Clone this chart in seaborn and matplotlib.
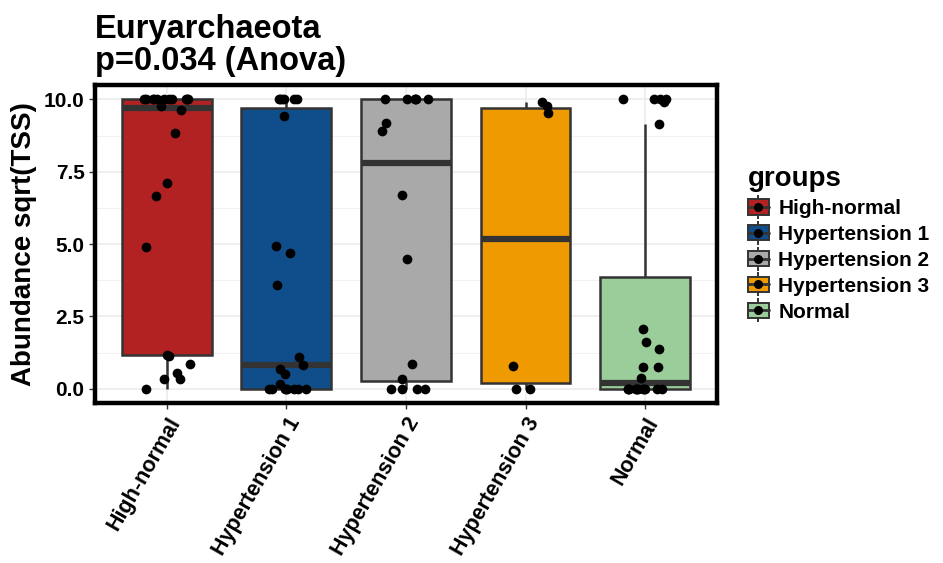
import numpy as np
import pandas as pd
import seaborn as sns
import matplotlib.pyplot as plt
from matplotlib.patches import Patch
from matplotlib.lines import Line2D
from matplotlib.legend_handler import HandlerTuple
from matplotlib.ticker import FormatStrFormatter, MultipleLocator

groups = ['High-normal', 'Hypertension 1', 'Hypertension 2', 'Hypertension 3', 'Normal']
colors = ['#B22222', '#104E8B', '#A9A9A9', '#EE9A00', '#9BCD9B']

# sqrt(TSS) abundance per sample
high_normal = [0.0, 0.33, 0.33, 0.54, 0.85, 1.13, 1.16, 4.91, 6.67, 7.12, 8.85, 9.65, 9.78] + [10.0] * 11
hyper_1 = [0.0] * 8 + [0.17, 0.50, 0.67, 0.82, 1.11, 3.60, 4.70, 4.95, 9.44] + [10.0] * 6
hyper_2 = [0.0] * 4 + [0.33, 0.85, 4.50, 6.68, 8.90, 9.19] + [10.0] * 6
hyper_3 = [0.0, 0.0, 0.80, 9.53, 9.78, 9.90]
normal = [0.0] * 12 + [0.37, 0.74, 0.74, 1.36, 1.62, 2.08, 9.15, 9.92] + [10.0] * 4

values = [high_normal, hyper_1, hyper_2, hyper_3, normal]
df = pd.DataFrame({'groups': [g for g, v in zip(groups, values) for _ in v],
                   'value': [x for v in values for x in v]})

sns.set_theme(style='white')
plt.rcParams['font.family'] = ['Liberation Sans', 'DejaVu Sans']
plt.rcParams['font.weight'] = 'bold'
plt.rcParams['axes.labelweight'] = 'bold'
plt.rcParams['axes.titleweight'] = 'bold'
plt.rcParams['text.color'] = 'black'
plt.rcParams['axes.labelcolor'] = 'black'

fig = plt.figure(figsize=(9.43, 5.63), dpi=100)
ax = fig.add_axes([0.1007, 0.284, 0.6596, 0.565])

sns.boxplot(data=df, x='groups', y='value', hue='groups', order=groups,
            hue_order=groups, palette=colors, saturation=1, width=0.75,
            linewidth=1.8, linecolor='#333333', showfliers=False, showcaps=False,
            medianprops={'linewidth': 4.5, 'color': '#333333'},
            legend=False, ax=ax, zorder=2)
np.random.seed(7)
sns.stripplot(data=df, x='groups', y='value', order=groups, color='black',
              size=7, jitter=0.2, ax=ax, zorder=3)

ax.set_xlim(-0.6, 4.6)
ax.set_ylim(-0.5, 10.5)
ax.yaxis.set_major_locator(MultipleLocator(2.5))
ax.yaxis.set_minor_locator(MultipleLocator(1.25))
ax.yaxis.set_major_formatter(FormatStrFormatter('%.1f'))
ax.grid(which='major', color='#EBEBEB', linewidth=1.1)
ax.grid(which='minor', axis='y', color='#F2F2F2', linewidth=0.7)
ax.set_axisbelow(True)
for s in ax.spines.values():
    s.set_linewidth(3.2)
    s.set_color('black')

ax.tick_params(axis='both', which='major', length=4, width=1, color='#333333',
               labelsize=15, labelcolor='black', left=True, bottom=True)
ax.tick_params(axis='x', labelsize=15.5)
ax.tick_params(axis='y', which='minor', length=0)
plt.setp(ax.get_xticklabels(), rotation=60, ha='right', va='top',
         rotation_mode='anchor')

ax.set_xlabel('')
ax.set_ylabel('Abundance sqrt(TSS)', fontsize=20, labelpad=5, color='black')
ax.set_title('Euryarchaeota\np=0.034 (Anova)', loc='left', fontsize=23.5,
             pad=11, linespacing=1.05, color='black')

handles = []
for c in colors:
    whisk = Line2D([], [], color='#333333', marker='|', markersize=17,
                   markeredgewidth=1.4, linestyle='none')
    box = Patch(facecolor=c, edgecolor='#333333', linewidth=1.4)
    med = Line2D([], [], color='#333333', linewidth=2)
    dot = Line2D([], [], color='black', marker='o', markersize=5.5, linestyle='none')
    handles.append((whisk, box, med, dot))
leg = ax.legend(handles, groups, title='groups',
                handler_map={tuple: HandlerTuple(ndivide=1)},
                loc='center left', bbox_to_anchor=(1.05, 0.5), frameon=False,
                prop={'weight': 'bold', 'size': 15},
                title_fontproperties={'weight': 'bold', 'size': 20},
                handlelength=1.0, handleheight=0.75, handletextpad=0.45,
                labelspacing=0.33, borderaxespad=0, borderpad=0, alignment='left')
for t in leg.get_texts():
    t.set_color('black')

fig.savefig('out.png', dpi=100)
